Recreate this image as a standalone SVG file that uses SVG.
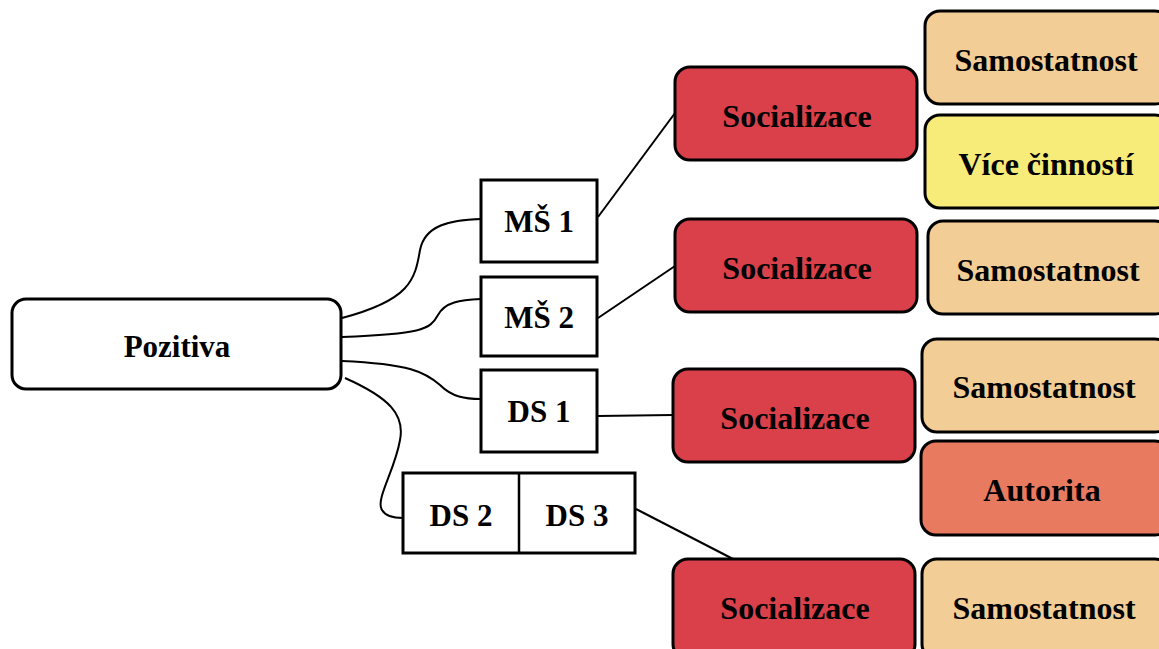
<svg xmlns="http://www.w3.org/2000/svg" width="1159" height="649" viewBox="0 0 1159 649">
<style>
.box{stroke:#000;stroke-width:3}
.w{fill:#fff}
.red{fill:#D9404A}
.sam{fill:#F2CD96}
.yel{fill:#F7EB7A}
.aut{fill:#E87A60}
text{font-family:"Liberation Serif","Times New Roman",serif;font-weight:bold;font-size:32px;text-anchor:middle;fill:#000}
.s{font-size:31px}
.c{fill:none;stroke:#000;stroke-width:2}
</style>
<rect width="1159" height="649" fill="#fff"/>
<g id="connectors">
<path class="c" d="M342,318 C410,300 415,280 420,250 C425,225 450,220 481,219"/>
<path class="c" d="M342,337 C420,334 430,330 438,315 C445,302 460,300 481,299"/>
<path class="c" d="M342,361 C410,364 425,372 440,385 C452,397 465,399 481,399"/>
<path class="c" d="M345,378 C390,398 405,415 400,440 C395,470 375,500 382,510 C386,517 395,518 403,518"/>
<path class="c" d="M598,217 L675,113"/>
<path class="c" d="M598,318 L675,266"/>
<path class="c" d="M598,416 L673,415"/>
<path class="c" d="M636,509 L735,560"/>
</g>
<g id="pozitiva"><rect class="box w" x="12" y="299" width="329" height="90" rx="14"/><text class="s" x="177" y="357">Pozitiva</text></g>
<g id="ms1"><rect class="box w" x="481" y="180" width="116" height="82"/><text class="s" x="539" y="232">MŠ 1</text></g>
<g id="ms2"><rect class="box w" x="481" y="277" width="116" height="79"/><text class="s" x="539" y="328">MŠ 2</text></g>
<g id="ds1"><rect class="box w" x="481" y="370" width="116" height="82"/><text class="s" x="539" y="422">DS 1</text></g>
<g id="ds23"><rect class="box w" x="403" y="473" width="232" height="80"/><line x1="519" y1="473" x2="519" y2="553" stroke="#000" stroke-width="2.5"/><text class="s" x="461" y="526">DS 2</text><text class="s" x="577" y="526">DS 3</text></g>
<g id="soc1"><rect class="box red" x="675" y="67" width="242" height="93" rx="15"/><text x="797" y="127">Socializace</text></g>
<g id="soc2"><rect class="box red" x="675" y="219" width="242" height="93" rx="15"/><text x="797" y="279">Socializace</text></g>
<g id="soc3"><rect class="box red" x="673" y="369" width="242" height="93" rx="15"/><text x="795" y="429">Socializace</text></g>
<g id="soc4"><rect class="box red" x="673" y="559" width="242" height="100" rx="15"/><text x="795" y="619">Socializace</text></g>
<g id="sam1"><rect class="box sam" x="925" y="11" width="245" height="93" rx="15"/><text x="1046" y="71">Samostatnost</text></g>
<g id="vice"><rect class="box yel" x="925" y="115" width="245" height="93" rx="15"/><text x="1046" y="175">Více činností</text></g>
<g id="sam2"><rect class="box sam" x="928" y="221" width="242" height="93" rx="15"/><text x="1048" y="281">Samostatnost</text></g>
<g id="sam3"><rect class="box sam" x="922" y="339" width="248" height="93" rx="15"/><text x="1044" y="398">Samostatnost</text></g>
<g id="autorita"><rect class="box aut" x="921" y="441" width="249" height="94" rx="15"/><text x="1042" y="501">Autorita</text></g>
<g id="sam4"><rect class="box sam" x="922" y="559" width="248" height="100" rx="15"/><text x="1044" y="619">Samostatnost</text></g>
</svg>
